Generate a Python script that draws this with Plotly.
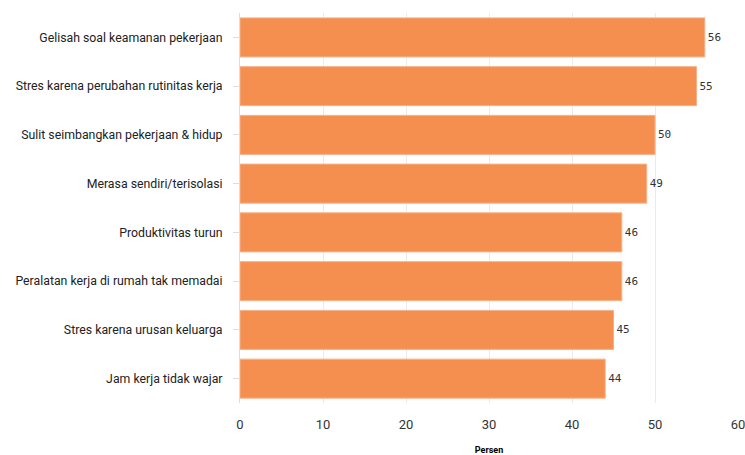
import plotly.graph_objects as go

categories = [
    "Gelisah soal keamanan pekerjaan",
    "Stres karena perubahan rutinitas kerja",
    "Sulit seimbangkan pekerjaan & hidup",
    "Merasa sendiri/terisolasi",
    "Produktivitas turun",
    "Peralatan kerja di rumah tak memadai",
    "Stres karena urusan keluarga",
    "Jam kerja tidak wajar",
]
values = [56, 55, 50, 49, 46, 46, 45, 44]
x_ticks = [0, 10, 20, 30, 40, 50, 60]
x_title = "Persen"

fig = go.Figure(
    go.Bar(
        x=values,
        y=categories,
        orientation="h",
        marker=dict(color="#F58F50", line=dict(color="#F8B088", width=1)),
        text=[str(v) for v in values],
        textposition="outside",
        textfont=dict(family="DejaVu Sans Mono", size=11, color="#333333"),
        cliponaxis=False,
        width=0.8,
        hoverinfo="skip",
    )
)

fig.update_layout(
    width=745,
    height=455,
    margin=dict(l=240, r=7, t=13, b=52),
    plot_bgcolor="white",
    paper_bgcolor="white",
    showlegend=False,
    font=dict(family="Roboto", color="#333333"),
    xaxis=dict(
        range=[0, 60],
        tickvals=x_ticks,
        showgrid=True,
        gridcolor="#EBEBEB",
        gridwidth=1,
        zeroline=False,
        showline=False,
        ticks="",
        automargin=False,
        ticklabeloverflow="allow",
        tickfont=dict(size=13, color="#333333"),
        title=dict(text="<b>" + x_title + "</b>", font=dict(size=9, color="#000000"), standoff=16),
        ticklabelstandoff=12,
    ),
    yaxis=dict(
        categoryorder="array",
        categoryarray=categories[::-1],
        showgrid=False,
        showline=True,
        automargin=False,
        linecolor="#DDDDDD",
        linewidth=1,
        ticks="outside",
        ticklen=6,
        tickcolor="#DDDDDD",
        tickfont=dict(size=12.3, color="#222222"),
        ticklabelstandoff=8,
    ),
    bargap=0.2,
)

fig.write_html(
    "out.html",
    config={"displayModeBar": False},
    post_script="document.body.style.margin='0';document.documentElement.style.overflow='hidden';document.body.style.overflow='hidden';",
)
